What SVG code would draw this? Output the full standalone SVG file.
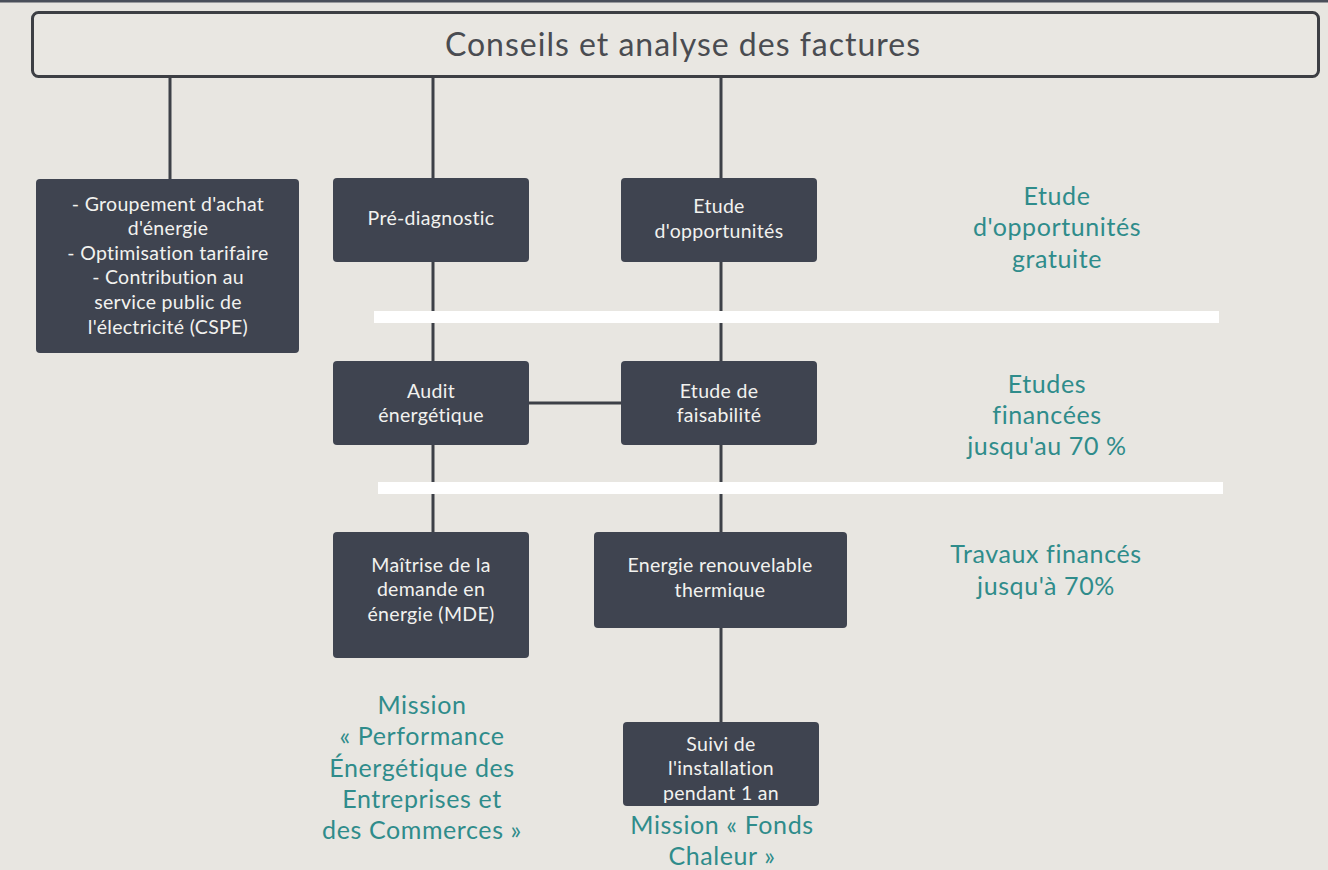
<svg xmlns="http://www.w3.org/2000/svg" width="1328" height="870" viewBox="0 0 1328 870">
<style>
.bg{fill:#e8e6e1}
.box{fill:#3f4450}
.bt{font-family:Lato,"Open Sans","Liberation Sans",sans-serif;font-size:19.5px;letter-spacing:0.3px;fill:#f2f2ef;text-anchor:middle}
.tl{font-family:Lato,"Open Sans","Liberation Sans",sans-serif;font-size:25px;letter-spacing:0.6px;fill:#2f8c8b;text-anchor:middle}
.cn{stroke:#3d4047;stroke-width:3;fill:none}
.bar{fill:#ffffff}
</style>
<rect class="bg" x="0" y="0" width="1328" height="870"/>
<rect x="0" y="0" width="1328" height="2.5" fill="#4a4f5a"/>
<g id="connectors">
<line class="cn" x1="170" y1="77" x2="170" y2="180"/>
<line class="cn" x1="433" y1="77" x2="433" y2="179"/>
<line class="cn" x1="433" y1="261" x2="433" y2="362"/>
<line class="cn" x1="433" y1="444" x2="433" y2="533"/>
<line class="cn" x1="721" y1="77" x2="721" y2="179"/>
<line class="cn" x1="721" y1="261" x2="721" y2="362"/>
<line class="cn" x1="721" y1="444" x2="721" y2="533"/>
<line class="cn" x1="721" y1="627" x2="721" y2="723"/>
<line class="cn" x1="527" y1="403" x2="622" y2="403"/>
</g>
<g id="bars">
<rect class="bar" x="374" y="311" width="845" height="12"/>
<rect class="bar" x="378" y="482" width="845" height="12"/>
</g>
<g id="title">
<rect x="32.5" y="12.5" width="1286" height="64" rx="6" fill="#e9e7e2" stroke="#3d3f44" stroke-width="3"/>
<text x="683" y="56" font-family="Lato,'Open Sans','Liberation Sans',sans-serif" font-size="32" letter-spacing="1" fill="#4a4c51" text-anchor="middle">Conseils et analyse des factures</text>
</g>
<g id="n-groupement">
<rect class="box" x="36" y="179" width="263" height="174" rx="4"/>
<text class="bt" x="168" y="211">- Groupement d'achat</text>
<text class="bt" x="168" y="235">d'énergie</text>
<text class="bt" x="168" y="260">- Optimisation tarifaire</text>
<text class="bt" x="168" y="284">- Contribution au</text>
<text class="bt" x="168" y="309">service public de</text>
<text class="bt" x="168" y="334">l'électricité (CSPE)</text>
</g>
<g id="n-prediag">
<rect class="box" x="333" y="178" width="196" height="84" rx="4"/>
<text class="bt" x="431" y="225">Pré-diagnostic</text>
</g>
<g id="n-opport">
<rect class="box" x="621" y="178" width="196" height="84" rx="4"/>
<text class="bt" x="719" y="213">Etude</text>
<text class="bt" x="719" y="238">d'opportunités</text>
</g>
<g id="n-audit">
<rect class="box" x="333" y="361" width="196" height="84" rx="4"/>
<text class="bt" x="431" y="398">Audit</text>
<text class="bt" x="431" y="422">énergétique</text>
</g>
<g id="n-faisab">
<rect class="box" x="621" y="361" width="196" height="84" rx="4"/>
<text class="bt" x="719" y="398">Etude de</text>
<text class="bt" x="719" y="422">faisabilité</text>
</g>
<g id="n-mde">
<rect class="box" x="333" y="532" width="196" height="126" rx="4"/>
<text class="bt" x="431" y="572">Maîtrise de la</text>
<text class="bt" x="431" y="596">demande en</text>
<text class="bt" x="431" y="621">énergie (MDE)</text>
</g>
<g id="n-enr">
<rect class="box" x="594" y="532" width="253" height="96" rx="4"/>
<text class="bt" x="720" y="572">Energie renouvelable</text>
<text class="bt" x="720" y="597">thermique</text>
</g>
<g id="n-suivi">
<rect class="box" x="623" y="722" width="196" height="84" rx="4"/>
<text class="bt" x="721" y="751">Suivi de</text>
<text class="bt" x="721" y="775">l'installation</text>
<text class="bt" x="721" y="800">pendant 1 an</text>
</g>
<g id="labels">
<text class="tl" x="1057" y="205">Etude</text>
<text class="tl" x="1057" y="236">d'opportunités</text>
<text class="tl" x="1057" y="268">gratuite</text>
<text class="tl" x="1047" y="393">Etudes</text>
<text class="tl" x="1047" y="424">financées</text>
<text class="tl" x="1047" y="455">jusqu'au 70 %</text>
<text class="tl" x="1046" y="563">Travaux financés</text>
<text class="tl" x="1046" y="595">jusqu'à 70%</text>
<text class="tl" x="422" y="714">Mission</text>
<text class="tl" x="422" y="745">« Performance</text>
<text class="tl" x="422" y="777">Énergétique des</text>
<text class="tl" x="422" y="808">Entreprises et</text>
<text class="tl" x="422" y="839">des Commerces »</text>
<text class="tl" x="722" y="834">Mission « Fonds</text>
<text class="tl" x="722" y="865">Chaleur »</text>
</g>
</svg>
